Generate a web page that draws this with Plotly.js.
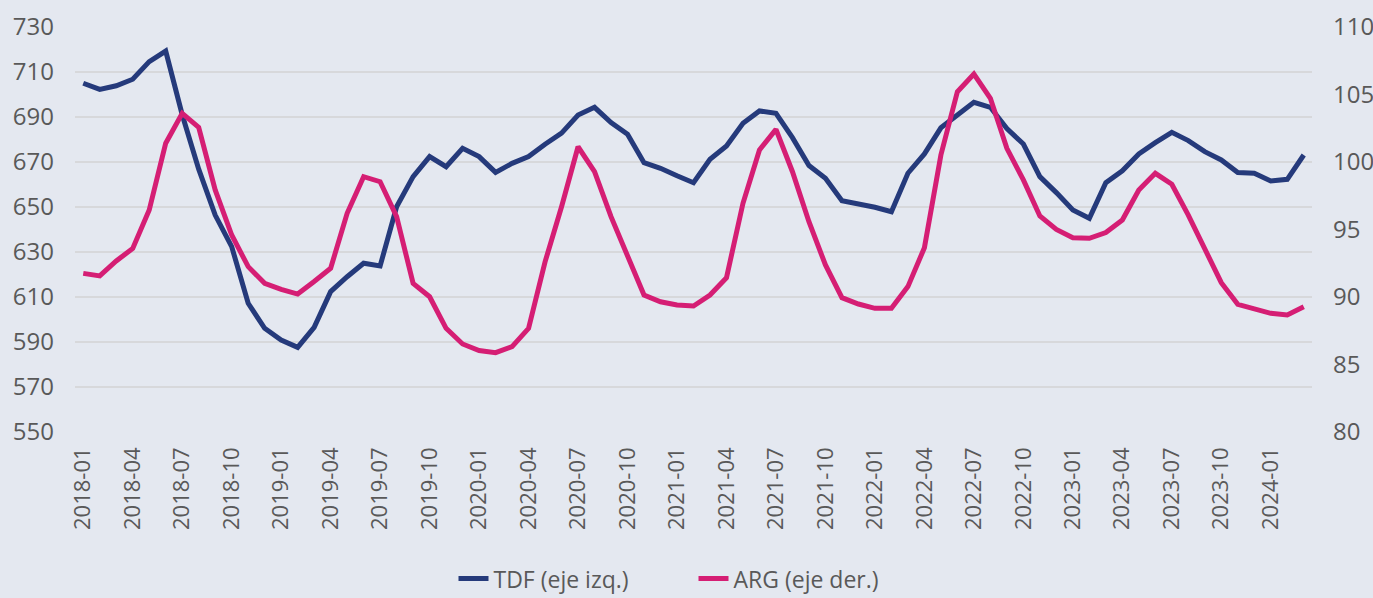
<!DOCTYPE html>
<html>
<head>
<meta charset="utf-8">
<script src="https://cdn.plot.ly/plotly-3.0.1.min.js"></script>
<style>html,body{margin:0;padding:0;background:#E4E8F0;}#chart{width:1373px;height:598px;}</style>
</head>
<body>
<div id="chart"></div>
<script>
const months = [
 "2018-01","2018-02","2018-03","2018-04","2018-05","2018-06","2018-07","2018-08","2018-09","2018-10","2018-11","2018-12",
 "2019-01","2019-02","2019-03","2019-04","2019-05","2019-06","2019-07","2019-08","2019-09","2019-10","2019-11","2019-12",
 "2020-01","2020-02","2020-03","2020-04","2020-05","2020-06","2020-07","2020-08","2020-09","2020-10","2020-11","2020-12",
 "2021-01","2021-02","2021-03","2021-04","2021-05","2021-06","2021-07","2021-08","2021-09","2021-10","2021-11","2021-12",
 "2022-01","2022-02","2022-03","2022-04","2022-05","2022-06","2022-07","2022-08","2022-09","2022-10","2022-11","2022-12",
 "2023-01","2023-02","2023-03","2023-04","2023-05","2023-06","2023-07","2023-08","2023-09","2023-10","2023-11","2023-12",
 "2024-01","2024-02","2024-03"
];
const tdf = [
 705.0,702.3,703.9,706.8,714.6,719.3,691.0,666.8,646.4,632.4,607.2,596.1,
 590.9,587.6,596.5,612.4,619.0,625.0,623.8,650.1,663.5,672.4,667.9,676.1,
 672.4,665.4,669.4,672.4,677.9,682.8,690.9,694.3,687.5,682.3,669.7,667.2,
 663.9,660.8,671.2,677.1,687.2,692.7,691.6,680.8,668.4,662.8,652.8,651.6,
 649.9,647.9,665.0,673.6,685.2,690.9,696.5,694.3,684.9,678.0,663.5,656.4,
 648.7,645.0,660.8,666.1,673.6,678.6,683.2,679.5,674.6,670.9,665.3,665.0,
 661.6,662.3,673.1
];
const arg = [
 91.75,91.56,92.67,93.60,96.44,101.39,103.60,102.57,97.93,94.59,92.25,91.01,
 90.57,90.22,91.15,92.13,96.20,98.91,98.54,95.95,91.01,90.02,87.68,86.52,
 86.03,85.88,86.32,87.68,92.60,96.69,101.13,99.28,95.95,93.11,90.15,89.65,
 89.41,89.33,90.15,91.43,96.94,100.89,102.42,99.28,95.58,92.37,89.95,89.48,
 89.16,89.16,90.77,93.65,100.52,105.21,106.52,104.72,101.01,98.67,96.00,95.01,
 94.39,94.35,94.77,95.70,97.93,99.16,98.35,96.07,93.60,91.06,89.46,89.09,
 88.79,88.67,89.28
];
const xTicks = months.filter((m, i) => i % 3 === 0);
const leftTicks = [550,570,590,610,630,650,670,690,710,730];
const rightTicks = [80,85,90,95,100,105,110];
const seriesNames = ["TDF (eje izq.)", "ARG (eje der.)"];

const FONT = "Open Sans, Liberation Sans, sans-serif";
const traces = [
 {x: months, y: tdf, name: seriesNames[0], type: "scatter", mode: "lines",
  line: {color: "#253A7B", width: 5, shape: "linear"}, yaxis: "y", cliponaxis: false},
 {x: months, y: arg, name: seriesNames[1], type: "scatter", mode: "lines",
  line: {color: "#D51E74", width: 5, shape: "linear"}, yaxis: "y2", cliponaxis: false}
];
const layout = {
 width: 1373, height: 598,
 paper_bgcolor: "#E4E8F0", plot_bgcolor: "#E4E8F0",
 margin: {l: 75, r: 61, t: 27, b: 166, pad: 0, autoexpand: false},
 font: {family: FONT, color: "#595959"},
 showlegend: true,
 legend: {orientation: "h", x: 0.5, xanchor: "center", y: -0.362, yanchor: "middle",
  entrywidth: 195, entrywidthmode: "pixels",
  font: {family: FONT, size: 23, color: "#595959"}, bgcolor: "rgba(0,0,0,0)", tracegroupgap: 0},
 xaxis: {type: "category", range: [-0.5, 74.5], tickmode: "array", tickvals: xTicks, ticktext: xTicks,
  tickangle: -90, showgrid: false, zeroline: false, showline: false, ticks: "", automargin: false,
  ticklabelstandoff: 10, tickfont: {family: FONT, size: 22, color: "#595959"}},
 yaxis: {range: [550, 730], tickmode: "array", tickvals: leftTicks, showgrid: true, automargin: false,
  gridcolor: "#D7D8DB", gridwidth: 2, zeroline: false, showline: false, ticks: "",
  ticklabelstandoff: 20, tickfont: {family: FONT, size: 24, color: "#595959"}},
 yaxis2: {range: [80, 110], tickmode: "array", tickvals: rightTicks, overlaying: "y", side: "right",
  showgrid: false, zeroline: false, showline: false, ticks: "", automargin: false,
  ticklabelstandoff: 20, tickfont: {family: FONT, size: 24, color: "#595959"}}
};
Plotly.newPlot("chart", traces, layout, {displayModeBar: false, responsive: false});
</script>
</body>
</html>
